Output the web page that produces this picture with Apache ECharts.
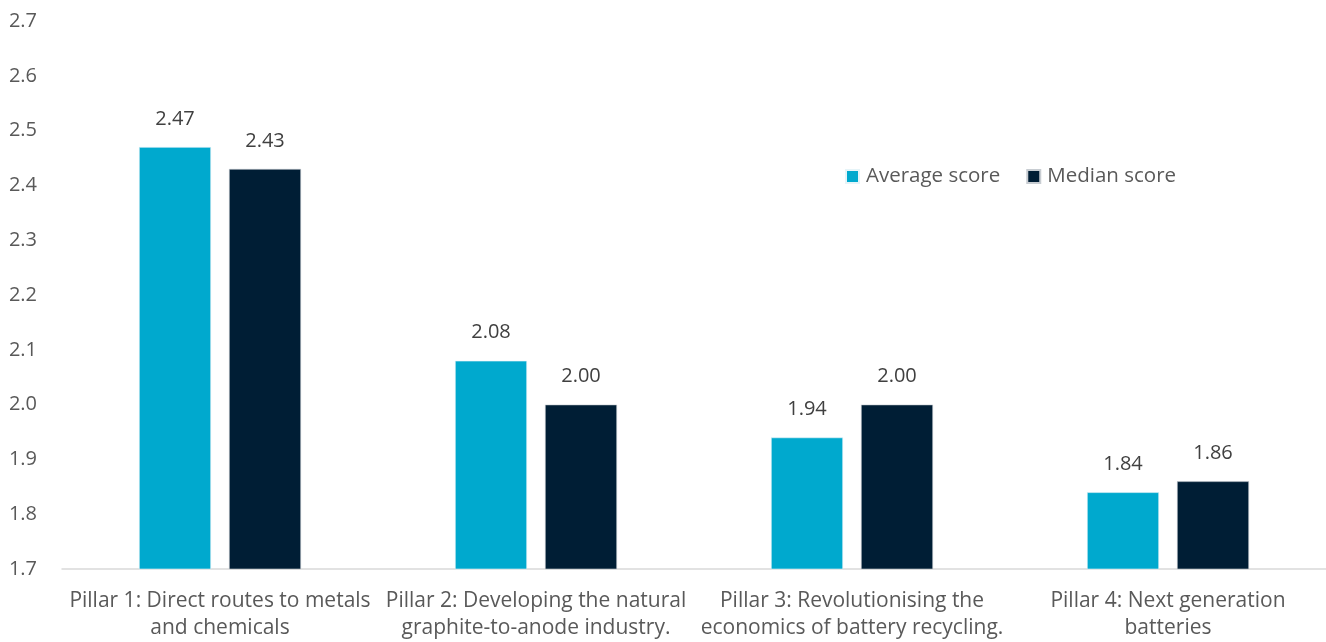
<!DOCTYPE html>
<html>
<head>
<meta charset="utf-8">
<script src="https://cdn.jsdelivr.net/npm/echarts@6/dist/echarts.min.js"></script>
<style>
  html, body { margin: 0; padding: 0; background: #fff; }
  #chart { width: 1326px; height: 642px; }
</style>
</head>
<body>
<div id="chart"></div>
<script>
// Survey scores per research pillar
const categories = [
  'Pillar 1: Direct routes to metals\nand chemicals',
  'Pillar 2: Developing the natural\ngraphite-to-anode industry.',
  'Pillar 3: Revolutionising the\neconomics of battery recycling.',
  'Pillar 4: Next generation\nbatteries'
];
const averageScore = [2.47, 2.08, 1.94, 1.84];
const medianScore = [2.43, 2.00, 2.00, 1.86];

const FONT = '"Open Sans", sans-serif';

const chart = echarts.init(document.getElementById('chart'));

const labelStyle = {
  show: true,
  position: 'top',
  distance: 18,
  color: '#404040',
  fontFamily: FONT,
  fontSize: 20,
  formatter: p => p.value.toFixed(2)
};

chart.setOption({
  animation: false,
  textStyle: { fontFamily: FONT },
  legend: {
    left: 840,
    top: 161,
    itemWidth: 13,
    itemHeight: 13,
    itemGap: 26,
    icon: 'rect',
    textStyle: { color: '#595959', fontSize: 20.5, fontFamily: FONT, padding: [0, 0, 0, 2] },
    data: ['Average score', 'Median score']
  },
  grid: { left: 62, right: 0, top: 21, bottom: 72, containLabel: false },
  xAxis: {
    type: 'category',
    data: categories,
    axisLine: { lineStyle: { color: '#D9D9D9', width: 1.5 } },
    axisTick: { show: false },
    axisLabel: {
      color: '#595959',
      fontSize: 21,
      lineHeight: 27,
      margin: 19,
      interval: 0,
      fontFamily: FONT
    }
  },
  yAxis: {
    type: 'value',
    min: 1.7,
    max: 2.7,
    interval: 0.1,
    axisLine: { show: false },
    axisTick: { show: false },
    splitLine: { show: false },
    axisLabel: {
      color: '#595959',
      fontSize: 20,
      margin: 25,
      fontFamily: FONT,
      formatter: v => v.toFixed(1)
    }
  },
  series: [
    {
      name: 'Average score',
      type: 'bar',
      data: averageScore,
      barWidth: 72,
      barGap: '25%',
      itemStyle: { color: '#00A9CE', borderColor: '#E6F4F8', borderWidth: 0.6 },
      label: labelStyle
    },
    {
      name: 'Median score',
      type: 'bar',
      data: medianScore,
      barWidth: 72,
      itemStyle: { color: '#001E35', borderColor: '#C8CDD2', borderWidth: 0.6 },
      label: labelStyle
    }
  ]
});
</script>
</body>
</html>
